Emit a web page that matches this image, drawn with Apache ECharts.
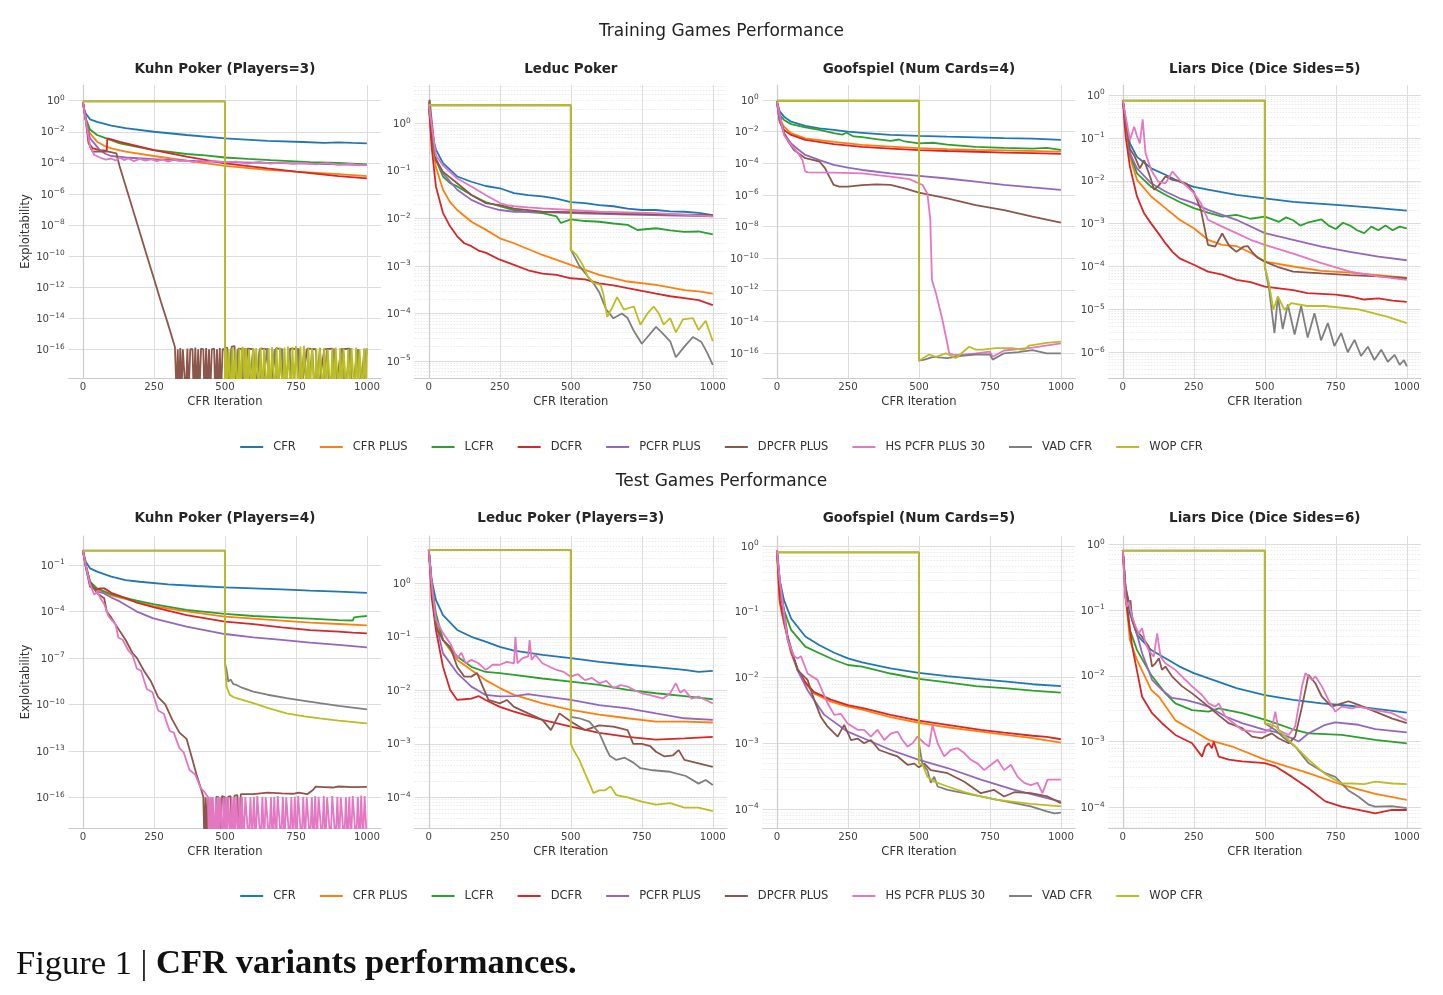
<!DOCTYPE html>
<html>
<head>
<meta charset="utf-8">
<script src="https://cdn.jsdelivr.net/npm/echarts@6/dist/echarts.min.js"></script>
<style>html,body{margin:0;padding:0;background:#fff}#c{width:1443px;height:995px}</style>
</head>
<body>
<div id="c"></div>
<script>
// ---------- categories / labels ----------
const SERIES_NAMES = ['CFR','CFR PLUS','LCFR','DCFR','PCFR PLUS','DPCFR PLUS','HS PCFR PLUS 30','VAD CFR','WOP CFR'];
const COLORS = ['#1f77b4','#ff7f0e','#2ca02c','#d62728','#9467bd','#8c564b','#e377c2','#7f7f7f','#bcbd22'];
const ROW_TITLES = ['Training Games Performance','Test Games Performance'];
const PLOT_TITLES = ['Kuhn Poker (Players=3)','Leduc Poker','Goofspiel (Num Cards=4)','Liars Dice (Dice Sides=5)',
                     'Kuhn Poker (Players=4)','Leduc Poker (Players=3)','Goofspiel (Num Cards=5)','Liars Dice (Dice Sides=6)'];
const X_TICKS = [0,250,500,750,1000];
const Y_TICKS = [
  [1,1e-2,1e-4,1e-6,1e-8,1e-10,1e-12,1e-14,1e-16],
  [1,1e-1,1e-2,1e-3,1e-4,1e-5],
  [1,1e-2,1e-4,1e-6,1e-8,1e-10,1e-12,1e-14,1e-16],
  [1,1e-1,1e-2,1e-3,1e-4,1e-5,1e-6],
  [1e-1,1e-4,1e-7,1e-10,1e-13,1e-16],
  [1,1e-1,1e-2,1e-3,1e-4],
  [1,1e-1,1e-2,1e-3,1e-4],
  [1,1e-1,1e-2,1e-3,1e-4]
];

// ---------- data: each subplot = 9 series in SERIES_NAMES order, points [iteration, exploitability] ----------
const trainKuhn3 = [
  [[0,0.85],[5,0.25],[10,0.15],[25,0.063],[50,0.043],[100,0.025],[150,0.017],[250,0.01],[365,6.2e-3],[500,3.8e-3],[650,2.6e-3],[775,2.2e-3],[850,1.9e-3],[900,2.1e-3],[950,1.9e-3],[1000,1.8e-3]],
  [[0,0.85],[10,0.057],[25,8e-3],[50,2.3e-3],[75,1.26e-3],[100,8.5e-4],[150,5.2e-4],[250,2.75e-4],[365,1.38e-4],[500,6.3e-5],[650,3.5e-5],[750,2.7e-5],[900,1.9e-5],[1000,1.4e-5]],
  [[0,0.85],[10,0.073],[25,0.014],[50,6.2e-3],[82,3.8e-3],[130,1.8e-3],[200,1e-3],[250,6.6e-4],[300,5.2e-4],[365,3.7e-4],[430,3.0e-4],[500,2.2e-4],[580,1.8e-4],[660,1.5e-4],[730,1.3e-4],[800,1.1e-4],[900,9.8e-5],[1000,8e-5]],
  [[0,0.85],[10,0.057],[20,1.8e-3],[35,8.5e-4],[60,6.6e-4],[84,6e-4],[86,3.8e-3],[100,3.2e-3],[130,2.2e-3],[200,1.1e-3],[250,6.6e-4],[365,2.5e-4],[500,9.3e-5],[650,4.4e-5],[750,2.7e-5],[900,1.4e-5],[1000,1e-5]],
  [[0,0.85],[10,0.06],[25,3.8e-3],[40,1.8e-3],[60,6.6e-4],[80,3.7e-4],[100,2.75e-4],[150,2.2e-4],[250,1.7e-4],[365,1.38e-4],[500,1.1e-4],[750,9.3e-5],[1000,7.2e-5]],
  [[0,0.85],[10,0.06],[25,1.1e-3],[35,5.2e-4],[60,5.4e-4],[90,5.2e-4],[118,4.1e-4],[129,6.3e-5],[150,3.5e-6],[175,1.1e-7],[200,3.5e-9],[225,1.1e-10],[250,3.6e-12],[275,1.1e-13],[300,4e-15],[324,1.4e-16],
   [330,1e-19],[334,1e-16],[338,1e-19],[343,1.2e-16],[347,1e-19],[352,1e-16],[358,1e-16],[362,1e-19],[368,1.1e-16],[372,1e-19],[378,1e-16],[386,1e-16],[390,1e-19],[396,1.3e-16],[400,1e-19],[406,1e-16],[410,1e-19],[416,1.1e-16],[424,1e-16],[428,1e-19],[434,1.2e-16],[438,1e-19],[444,1e-16],[448,1e-19],[454,1e-16],[462,1.1e-16],[466,1e-19],[472,1e-16],[476,1e-19],[482,1.2e-16],[486,1e-19],[492,1e-16],[500,1e-16],[508,1.3e-16],[516,1e-19],[524,1.5e-16],[534,1.6e-16],[540,1e-19],[548,1.1e-16],[560,1e-16],[566,1e-19],[580,1.1e-16],[600,1e-16],[606,1e-19],[624,1.1e-16],[650,1e-16],[656,1e-19],[680,1.2e-16],[700,1e-16],[706,1e-19],[730,1.1e-16],[760,1e-16],[766,1e-19],[790,1.1e-16],[820,1e-16],[826,1e-19],[850,1e-16],[880,1.1e-16],[886,1e-19],[910,1e-16],[940,1.1e-16],[946,1e-19],[970,1e-16],[986,1e-19],[1000,1e-16]],
  [[0,0.85],[10,0.06],[25,1.1e-3],[40,3.2e-4],[47,2.5e-4],[60,2.2e-4],[80,1.6e-4],[100,1.9e-4],[115,1.4e-4],[130,2.2e-4],[145,1.5e-4],[160,1.9e-4],[180,1.3e-4],[200,1.8e-4],[220,1.4e-4],[240,1.7e-4],[260,1.3e-4],[280,1.6e-4],[300,1.2e-4],[320,1.6e-4],[340,1.3e-4],[365,1.4e-4],[390,1.1e-4],[410,1.5e-4],[430,1.1e-4],[460,1.35e-4],[500,1.1e-4],[540,1.2e-4],[580,9e-5],[620,1.15e-4],[660,9e-5],[700,1.05e-4],[740,8.5e-5],[780,1e-4],[820,8e-5],[860,9.5e-5],[900,7.5e-5],[940,8.5e-5],[970,7e-5],[1000,7.2e-5]],
  [[0,0.9],[500,0.9],[500,1e-19],[506,1e-16],[512,1e-19],[522,1.1e-16],[530,1e-19],[545,1e-16],[552,1e-19],[570,1.2e-16],[580,1e-19],[600,1.1e-16],[608,1e-19],[622,1e-16],[630,1e-19],[648,1.2e-16],[656,1e-19],[675,1e-16],[684,1e-19],[702,1.1e-16],[710,1e-19],[728,1e-16],[736,1e-19],[755,1.2e-16],[762,1e-19],[780,1.1e-16],[790,1e-19],[808,1e-16],[816,1e-19],[835,1.2e-16],[842,1e-19],[860,1e-16],[868,1e-19],[888,1.1e-16],[896,1e-19],[915,1e-16],[922,1e-19],[940,1.2e-16],[948,1e-19],[966,1e-16],[974,1e-19],[992,1.1e-16],[1000,1e-19]],
  [[0,0.9],[500,0.9],[500,1e-19],[504,1.2e-16],[508,1e-19],[513,1e-16],[518,1.1e-16],[522,1e-19],[527,1.3e-16],[532,1e-19],[537,1e-16],[542,1.2e-16],[546,1e-19],[551,1.1e-16],[556,1e-19],[561,1.4e-16],[566,1e-16],[570,1e-19],[575,1.2e-16],[580,1e-19],[585,1e-16],[590,1.3e-16],[594,1e-19],[599,1.1e-16],[604,1e-19],[610,1.2e-16],[616,1e-16],[620,1e-19],[626,1.3e-16],[632,1e-19],[638,1.1e-16],[644,1e-16],[648,1e-19],[654,1.2e-16],[660,1e-19],[666,1.4e-16],[672,1.1e-16],[676,1e-19],[682,1.2e-16],[688,1e-19],[694,1.3e-16],[700,1e-16],[704,1e-19],[710,1.3e-16],[716,1e-19],[722,1.5e-16],[728,1.2e-16],[732,1e-19],[738,1.4e-16],[744,1e-19],[750,1.6e-16],[756,1.8e-16],[760,1e-19],[766,1.5e-16],[772,1e-19],[778,1.7e-16],[784,1.4e-16],[788,1e-19],[794,1.3e-16],[800,1e-19],[806,1.2e-16],[812,1.3e-16],[816,1e-19],[822,1.1e-16],[828,1e-19],[834,1.3e-16],[840,1.1e-16],[844,1e-19],[850,1.2e-16],[856,1e-19],[862,1e-16],[868,1.2e-16],[872,1e-19],[878,1.1e-16],[884,1e-19],[890,1.3e-16],[896,1e-16],[900,1e-19],[906,1.2e-16],[912,1e-19],[918,1.1e-16],[924,1.2e-16],[928,1e-19],[934,1e-16],[940,1e-19],[946,1.2e-16],[952,1.1e-16],[956,1e-19],[962,1.3e-16],[968,1e-19],[974,1e-16],[980,1.2e-16],[984,1e-19],[990,1.1e-16],[996,1e-19],[1000,1.2e-16]]
];

const trainLeduc = [
  [[0,2.6],[10,0.62],[25,0.28],[50,0.145],[100,0.076],[150,0.059],[200,0.048],[250,0.043],[300,0.034],[350,0.031],[400,0.029],[450,0.026],[500,0.022],[550,0.021],[600,0.019],[650,0.018],[700,0.016],[750,0.015],[800,0.015],[850,0.014],[900,0.0138],[950,0.013],[1000,0.0117]],
  [[0,2.6],[10,0.45],[25,0.12],[50,0.04],[75,0.022],[100,0.015],[150,8.5e-3],[200,5.8e-3],[250,3.8e-3],[300,3e-3],[400,1.7e-3],[500,1.05e-3],[600,6.5e-4],[700,4.7e-4],[800,4e-4],[900,3.1e-4],[950,2.9e-4],[1000,2.6e-4]],
  [[0,2.6],[10,0.5],[25,0.17],[50,0.076],[75,0.055],[100,0.047],[150,0.031],[200,0.022],[250,0.018],[300,0.015],[350,0.0135],[400,0.0129],[450,0.011],[465,8e-3],[500,9.5e-3],[550,8.8e-3],[600,8.5e-3],[650,7.8e-3],[700,7.3e-3],[735,5.7e-3],[800,6.2e-3],[850,5.6e-3],[900,5.2e-3],[950,5.3e-3],[1000,4.6e-3]],
  [[0,2.6],[10,0.32],[25,0.047],[50,0.0129],[75,6.8e-3],[100,4.2e-3],[125,3e-3],[150,2.6e-3],[175,2.1e-3],[200,1.9e-3],[250,1.35e-3],[300,1.05e-3],[350,8.1e-4],[400,6.9e-4],[450,6.5e-4],[500,5.5e-4],[550,5.2e-4],[600,4.3e-4],[650,3.9e-4],[700,3.4e-4],[750,3e-4],[800,2.6e-4],[850,2.3e-4],[900,2.1e-4],[950,1.9e-4],[1000,1.5e-4]],
  [[0,2.6],[25,0.18],[50,0.089],[100,0.04],[150,0.0245],[200,0.018],[250,0.015],[300,0.0138],[400,0.0135],[500,0.0129],[700,0.012],[1000,0.011]],
  [[0,2.6],[3,3.1],[8,1.5],[25,0.17],[50,0.095],[100,0.055],[150,0.031],[200,0.021],[250,0.019],[300,0.016],[400,0.0138],[500,0.0135],[700,0.0125],[1000,0.0117]],
  [[0,2.6],[25,0.21],[50,0.13],[100,0.069],[150,0.047],[200,0.031],[250,0.021],[275,0.019],[300,0.018],[350,0.017],[400,0.0162],[500,0.015],[600,0.0138],[800,0.0129],[1000,0.011]],
  [[0,2.4],[500,2.4],[500,2.2e-3],[530,1e-3],[560,6e-4],[580,4.3e-4],[600,2.8e-4],[625,1.2e-4],[650,7.9e-5],[680,1e-4],[700,8e-5],[720,4.5e-5],[750,2.3e-5],[770,3.2e-5],[800,5.2e-5],[820,4e-5],[850,2.6e-5],[870,1.2e-5],[900,2e-5],[930,3.2e-5],[960,2.5e-5],[980,1.5e-5],[1000,8.3e-6]],
  [[0,2.4],[500,2.4],[500,2.2e-3],[520,1.7e-3],[540,1.1e-3],[560,5.9e-4],[580,4.4e-4],[605,4e-4],[615,2.5e-4],[628,8.5e-5],[645,1.3e-4],[663,2.2e-4],[687,1.2e-4],[722,1.4e-4],[745,5.8e-5],[770,1e-4],[792,1.4e-4],[810,1e-4],[827,5.8e-5],[850,8e-5],[870,4e-5],[895,7.5e-5],[930,8e-5],[950,4.5e-5],[975,7e-5],[1000,2.6e-5]]
];

const trainGoof4 = [
  [[0,0.8],[10,0.19],[25,0.089],[50,0.043],[100,0.023],[150,0.016],[200,0.0129],[250,0.01],[300,8.5e-3],[400,6.2e-3],[500,5.4e-3],[600,4.8e-3],[700,4.4e-3],[800,3.9e-3],[900,3.6e-3],[1000,3e-3]],
  [[0,0.8],[10,0.055],[25,0.021],[50,8e-3],[100,3.8e-3],[200,2.3e-3],[300,1.45e-3],[400,1.15e-3],[500,9e-4],[600,7.9e-4],[700,7e-4],[800,6.5e-4],[1000,5.5e-4]],
  [[0,0.8],[10,0.11],[25,0.055],[50,0.03],[100,0.019],[150,0.013],[200,8e-3],[230,6.5e-3],[245,8.5e-3],[270,5e-3],[300,4.5e-3],[350,3.4e-3],[400,2.6e-3],[430,3.2e-3],[450,2.4e-3],[500,1.8e-3],[550,2e-3],[600,1.5e-3],[700,1.1e-3],[800,9.5e-4],[900,8.5e-4],[950,9.5e-4],[1000,7e-4]],
  [[0,0.8],[10,0.04],[25,0.0129],[50,6.2e-3],[100,3e-3],[200,1.65e-3],[300,1.1e-3],[400,8.5e-4],[500,6.9e-4],[600,6e-4],[700,5.4e-4],[800,4.7e-4],[900,4.4e-4],[1000,3.9e-4]],
  [[0,0.8],[10,0.05],[25,8e-3],[50,1.8e-3],[75,7.5e-4],[100,3.4e-4],[150,1.6e-4],[200,7.9e-5],[250,5.4e-5],[300,3.8e-5],[400,2.3e-5],[500,1.6e-5],[600,1.1e-5],[700,6.9e-6],[800,4.3e-6],[900,3e-6],[1000,2.1e-6]],
  [[0,0.8],[25,8e-3],[40,2.4e-3],[60,6.9e-4],[100,2.1e-4],[130,1.6e-4],[150,1.3e-4],[170,4.8e-5],[185,1.4e-5],[200,4.3e-6],[220,3.4e-6],[250,3.4e-6],[300,4.2e-6],[350,4.7e-6],[400,4.3e-6],[450,2.6e-6],[500,1.4e-6],[600,6.2e-7],[700,2.3e-7],[800,1.1e-7],[900,4.3e-8],[1000,1.8e-8]],
  [[0,0.8],[25,6e-3],[50,1.45e-3],[75,4.3e-4],[90,1.6e-4],[100,3e-5],[110,2.7e-5],[200,2.6e-5],[300,2.3e-5],[400,1.45e-5],[466,1e-5],[513,4.3e-6],[530,1.2e-6],[540,3e-8],[546,4.3e-12],[560,6.3e-13],[583,1.26e-14],[607,1e-16],[620,8e-17],[650,8e-17],[700,1e-16],[750,1.26e-16],[760,6e-17],[800,1.5e-16],[900,2.3e-16],[1000,4.3e-16]],
  [[0,0.9],[500,0.9],[500,3.4e-17],[520,4e-17],[550,6e-17],[600,5e-17],[650,7e-17],[700,8.4e-17],[750,8.4e-17],[760,4e-17],[800,1e-16],[850,1.2e-16],[900,1.6e-16],[950,1e-16],[1000,1e-16]],
  [[0,0.9],[500,0.9],[500,3.4e-17],[536,8.4e-17],[560,6e-17],[595,1e-16],[630,5e-17],[650,1e-16],[677,2.6e-16],[700,1.7e-16],[724,1.7e-16],[771,2.1e-16],[830,2.1e-16],[870,1.6e-16],[888,3.1e-16],[950,4.5e-16],[1000,5.5e-16]]
];

const trainLiars5 = [
  [[0,0.76],[10,0.22],[25,0.074],[50,0.036],[100,0.0195],[150,0.0138],[200,9.5e-3],[250,7.2e-3],[300,6.2e-3],[400,4.7e-3],[500,3.9e-3],[600,3.2e-3],[700,2.9e-3],[800,2.6e-3],[900,2.3e-3],[1000,2e-3]],
  [[0,0.76],[10,0.22],[25,0.036],[50,0.0105],[100,4.3e-3],[150,2.3e-3],[200,1.23e-3],[250,7.8e-4],[300,4.2e-4],[350,3.2e-4],[400,3e-4],[450,2.1e-4],[500,1.3e-4],[600,1e-4],[700,7.9e-5],[800,7.2e-5],[900,6.3e-5],[1000,5.4e-5]],
  [[0,0.76],[25,0.044],[50,0.0148],[100,7.2e-3],[150,4.7e-3],[200,3.2e-3],[250,2.3e-3],[300,1.8e-3],[350,1.45e-3],[400,1.6e-3],[450,1.3e-3],[500,1.45e-3],[550,1.1e-3],[575,1.4e-3],[600,1.2e-3],[625,9e-4],[650,1.05e-3],[700,1.25e-3],[725,9e-4],[750,7.5e-4],[775,1.05e-3],[800,9e-4],[825,7e-4],[850,6e-4],[875,8.5e-4],[900,7e-4],[925,9e-4],[950,7e-4],[975,8.5e-4],[1000,7.8e-4]],
  [[0,0.76],[10,0.107],[25,0.0214],[50,4.3e-3],[75,1.74e-3],[100,1e-3],[125,6e-4],[150,3.5e-4],[175,2.2e-4],[200,1.55e-4],[250,1.1e-4],[300,7.6e-5],[350,6.5e-5],[400,4.9e-5],[450,4.3e-5],[500,3.4e-5],[550,3.1e-5],[600,2.8e-5],[650,2.4e-5],[700,2.3e-5],[750,2.2e-5],[800,2e-5],[850,1.7e-5],[900,1.8e-5],[950,1.6e-5],[1000,1.5e-5]],
  [[0,0.76],[25,0.044],[50,0.0195],[100,8.7e-3],[150,5.6e-3],[200,3.9e-3],[250,3e-3],[300,2.1e-3],[400,1.23e-3],[500,6e-4],[600,4.2e-4],[700,2.9e-4],[800,2.2e-4],[900,1.7e-4],[1000,1.4e-4]],
  [[0,0.76],[25,0.055],[40,0.039],[60,0.0195],[75,0.03],[90,0.016],[100,0.0105],[110,6.2e-3],[125,7.5e-3],[150,0.0126],[175,0.0105],[200,9.8e-3],[225,8.5e-3],[250,5.5e-3],[275,2.1e-3],[300,3.2e-4],[325,2.9e-4],[350,5.9e-4],[375,3e-4],[400,2.2e-4],[425,2.9e-4],[440,3e-4],[455,2.2e-4],[475,1.6e-4],[500,1.3e-4],[550,9.5e-5],[600,7.6e-5],[700,6.9e-5],[800,6.3e-5],[900,5.9e-5],[1000,5.4e-5]],
  [[0,0.76],[25,0.089],[40,0.182],[50,0.11],[60,0.074],[70,0.27],[80,0.044],[100,0.0178],[125,9.5e-3],[150,8.7e-3],[175,0.0164],[200,0.0105],[250,5.2e-3],[275,3e-3],[300,1.23e-3],[350,8.5e-4],[400,6e-4],[450,4.2e-4],[500,3.2e-4],[600,2e-4],[700,1.2e-4],[800,7.6e-5],[900,5.9e-5],[1000,4.9e-5]],
  [[0,0.74],[500,0.74],[500,1e-4],[515,3e-5],[534,2.8e-6],[546,2e-5],[563,3.5e-6],[581,1.3e-5],[605,2.6e-6],[628,1.2e-5],[651,2.2e-6],[675,8.1e-6],[698,1.9e-6],[722,4.8e-6],[745,1.4e-6],[769,2.8e-6],[792,1e-6],[816,1.95e-6],[839,8.2e-7],[863,1.35e-6],[886,6.6e-7],[910,1.15e-6],[933,6e-7],[957,8.7e-7],[975,5.1e-7],[990,6.6e-7],[1000,4.7e-7]],
  [[0,0.74],[500,0.74],[500,1e-4],[515,4e-5],[530,9.8e-6],[546,2e-5],[569,9.8e-6],[593,1.4e-5],[650,1.2e-5],[710,1.2e-5],[830,1e-5],[930,6.8e-6],[1000,4.8e-6]]
];

const testKuhn4 = [
  [[0,0.84],[10,0.164],[25,0.061],[50,0.037],[100,0.0178],[150,0.0107],[200,8.3e-3],[300,5.6e-3],[400,4.4e-3],[500,3.6e-3],[600,3.1e-3],[700,2.7e-3],[800,2.2e-3],[900,1.9e-3],[1000,1.6e-3]],
  [[0,0.84],[10,0.1],[25,7.2e-3],[50,2.7e-3],[100,1.1e-3],[131,7.8e-4],[248,2.2e-4],[365,1e-4],[500,4.6e-5],[600,3.5e-5],[700,2.6e-5],[800,1.9e-5],[900,1.55e-5],[1000,1.26e-5]],
  [[0,0.84],[10,0.1],[25,8.3e-3],[50,3.1e-3],[100,1.3e-3],[131,9.1e-4],[190,5e-4],[248,3e-4],[365,1.26e-4],[500,6.9e-5],[600,5.1e-5],[700,4.2e-5],[800,3.5e-5],[900,2.8e-5],[950,2.6e-5],[955,4.2e-5],[975,4.6e-5],[1000,5.1e-5]],
  [[0,0.84],[10,0.08],[25,4e-3],[50,2.5e-3],[60,3.1e-3],[75,3.1e-3],[100,1.6e-3],[131,1e-3],[190,3.7e-4],[248,1.9e-4],[365,5.9e-5],[500,2.2e-5],[600,1.5e-5],[700,9.5e-6],[800,6.3e-6],[850,5.6e-6],[900,5e-6],[950,4.3e-6],[1000,3.9e-6]],
  [[0,0.84],[10,0.08],[25,5.1e-3],[50,1.9e-3],[73,1.5e-3],[100,8e-4],[131,4.3e-4],[190,9.8e-5],[248,3.6e-5],[365,1.05e-5],[500,3.5e-6],[600,2.1e-6],[700,1.45e-6],[800,9.8e-7],[900,6.9e-7],[1000,4.8e-7]],
  [[0,0.84],[10,0.1],[25,8.3e-3],[50,1.5e-3],[75,7.1e-4],[84,1e-4],[100,4e-5],[131,5e-6],[150,1.5e-6],[175,2e-7],[190,1e-7],[215,1.5e-8],[240,3e-9],[265,3e-10],[290,1e-10],[315,1e-11],[340,1.5e-12],[365,6e-13],[385,3e-14],[400,3e-15],[415,4e-16],
   [424,1.1e-16],[428,1e-19],[432,1e-16],[436,1e-19],[440,1.1e-16],[446,1e-16],[450,1e-19],[456,1e-16],[462,1e-19],[470,1.1e-16],[478,1e-16],[482,1e-19],[490,1.2e-16],[500,1e-16],[504,1e-19],[512,1.1e-16],[520,1.2e-16],[526,1e-19],[534,1.3e-16],[544,1.4e-16],[550,1e-19],[556,1.6e-16],[560,1.8e-16],[600,1.6e-16],[650,2e-16],[700,1.8e-16],[740,1.7e-16],[760,2e-16],[790,1.6e-16],[810,3e-16],[820,4.9e-16],[850,4.6e-16],[880,4.3e-16],[900,5e-16],[950,4.6e-16],[1000,4.8e-16]],
  [[0,0.84],[10,0.1],[25,6e-3],[40,1.2e-3],[50,2e-3],[60,8e-4],[75,3e-4],[90,5e-5],[100,3e-5],[115,1.5e-5],[125,2e-6],[140,1.5e-6],[160,3e-7],[175,1.5e-7],[190,2e-8],[205,1.5e-8],[225,1e-9],[245,6e-10],[265,4e-11],[285,2.5e-11],[305,2e-12],[320,1.5e-12],[340,1.5e-13],[355,8e-14],[375,6e-15],[395,3e-15],[415,4e-16],[430,2e-16],
   [440,1e-16],[444,1e-19],[448,1.1e-16],[452,1e-19],[456,1e-16],[460,1.2e-16],[464,1e-19],[468,1e-16],[472,1e-19],[476,1.1e-16],[480,1e-19],[484,1e-16],[488,1.2e-16],[492,1e-19],[496,1e-16],[500,1e-19],[504,1.1e-16],[508,1e-19],[512,1e-16],[516,1.2e-16],[520,1e-19],[524,1e-16],[528,1e-19],[532,1.1e-16],[536,1e-19],[540,1e-16],[544,1.2e-16],[548,1e-19],[552,1e-16],[556,1e-19],[560,1.1e-16],[566,1e-19],[572,1e-16],[578,1.2e-16],[584,1e-19],[590,1e-16],[596,1e-19],[602,1.1e-16],[608,1e-19],[614,1.2e-16],[620,1e-16],[626,1e-19],[632,1.1e-16],[638,1e-19],[644,1e-16],[650,1.2e-16],[656,1e-19],[662,1e-16],[668,1e-19],[674,1.1e-16],[680,1e-19],[686,1.2e-16],[692,1e-16],[698,1e-19],[704,1.1e-16],[710,1e-19],[716,1e-16],[722,1.2e-16],[728,1e-19],[734,1e-16],[740,1e-19],[746,1.1e-16],[752,1e-19],[758,1.2e-16],[764,1e-16],[770,1e-19],[776,1.1e-16],[782,1e-19],[788,1e-16],[794,1.3e-16],[800,1e-19],[806,1e-16],[812,1e-19],[818,1.2e-16],[824,1e-19],[830,1.1e-16],[836,1e-16],[842,1e-19],[848,1.2e-16],[854,1e-19],[860,1e-16],[866,1.1e-16],[872,1e-19],[878,1.2e-16],[884,1e-16],[890,1e-19],[896,1.1e-16],[902,1e-19],[908,1e-16],[914,1.2e-16],[920,1e-19],[926,1e-16],[932,1e-19],[938,1.1e-16],[944,1e-19],[950,1.2e-16],[956,1e-16],[962,1e-19],[968,1.1e-16],[974,1e-19],[980,1.3e-16],[986,1e-19],[992,1.2e-16],[1000,1e-19]],
  [[0,0.84],[500,0.84],[500,4.5e-8],[506,1.7e-8],[512,3e-9],[520,4e-9],[530,2e-9],[541,1.8e-9],[560,1.2e-9],[600,6.6e-10],[650,4.2e-10],[717,2.5e-10],[780,1.7e-10],[834,1.2e-10],[900,8e-11],[1000,4.8e-11]],
  [[0,0.84],[500,0.84],[500,4.5e-8],[506,1.4e-9],[517,4.1e-10],[530,3e-10],[541,2.5e-10],[600,1.2e-10],[650,6e-11],[717,2.6e-11],[780,1.7e-11],[834,1.26e-11],[900,9e-12],[1000,6e-12]]
];

const testLeduc3 = [
  [[0,4.2],[10,1.15],[25,0.49],[50,0.255],[100,0.134],[150,0.1],[200,0.081],[250,0.065],[300,0.055],[400,0.046],[500,0.04],[600,0.034],[700,0.03],[800,0.027],[900,0.024],[950,0.022],[1000,0.023]],
  [[0,4.2],[10,1.0],[25,0.21],[50,0.087],[100,0.037],[150,0.024],[200,0.0155],[250,0.011],[300,8.2e-3],[400,5.7e-3],[500,4.3e-3],[600,3.5e-3],[700,3e-3],[800,2.6e-3],[900,2.6e-3],[1000,2.5e-3]],
  [[0,4.2],[10,1.0],[25,0.275],[50,0.087],[100,0.043],[150,0.0275],[200,0.022],[250,0.021],[300,0.0195],[400,0.0166],[500,0.0145],[600,0.0126],[700,0.0102],[800,8.8e-3],[900,7.8e-3],[1000,6.8e-3]],
  [[0,4.2],[10,0.56],[25,0.134],[50,0.0275],[75,0.0102],[100,6.6e-3],[125,6.8e-3],[150,7e-3],[175,7.8e-3],[200,6.6e-3],[250,4.9e-3],[300,4e-3],[400,2.8e-3],[500,2.1e-3],[600,1.6e-3],[700,1.35e-3],[800,1.2e-3],[900,1.26e-3],[1000,1.35e-3]],
  [[0,4.2],[10,1.0],[25,0.18],[50,0.049],[100,0.021],[150,0.0117],[200,8.2e-3],[250,7.7e-3],[300,7.8e-3],[350,8.5e-3],[400,7.8e-3],[500,6.6e-3],[600,5.3e-3],[700,4.6e-3],[800,3.7e-3],[900,3e-3],[1000,2.8e-3]],
  [[0,4.2],[10,1.0],[25,0.155],[50,0.087],[75,0.065],[100,0.0275],[125,0.018],[150,0.018],[170,0.021],[190,0.0117],[210,6.6e-3],[250,5.7e-3],[275,6.6e-3],[300,4.9e-3],[350,3.7e-3],[400,2.8e-3],[430,1.8e-3],[460,3.7e-3],[500,2.6e-3],[550,1.8e-3],[600,2.2e-3],[650,2.1e-3],[700,1.8e-3],[720,1e-3],[750,1e-3],[780,9e-4],[800,7.1e-4],[830,5.8e-4],[860,6.1e-4],[880,7.6e-4],[900,5e-4],[950,4.3e-4],[1000,3.7e-4]],
  [[0,4.2],[10,1.0],[25,0.21],[50,0.117],[75,0.076],[100,0.04],[115,0.05],[130,0.032],[150,0.037],[175,0.032],[200,0.024],[225,0.03],[250,0.03],[275,0.034],[300,0.032],[305,0.1],[312,0.032],[330,0.04],[350,0.043],[355,0.087],[362,0.037],[375,0.046],[400,0.032],[425,0.0275],[450,0.024],[475,0.022],[500,0.018],[525,0.02],[550,0.0155],[575,0.017],[600,0.0135],[625,0.015],[650,0.011],[675,0.0125],[700,0.0117],[725,0.01],[750,8.8e-3],[775,8.2e-3],[800,7.6e-3],[825,7e-3],[850,8.8e-3],[870,0.0135],[885,9e-3],[900,0.0102],[925,7e-3],[950,7.6e-3],[975,6.6e-3],[1000,5.7e-3]],
  [[0,4.2],[500,4.2],[500,3.2e-3],[530,3e-3],[565,2.6e-3],[600,1.6e-3],[625,8e-4],[637,6e-4],[660,5e-4],[690,5.5e-4],[722,4.4e-4],[745,3.5e-4],[790,3.2e-4],[850,3e-4],[905,2.5e-4],[950,1.8e-4],[975,2.1e-4],[1000,1.7e-4]],
  [[0,4.2],[500,4.2],[500,1e-3],[510,7.6e-4],[530,5e-4],[550,2.8e-4],[570,1.6e-4],[580,1.2e-4],[600,1.35e-4],[620,1.35e-4],[640,1.6e-4],[660,1.1e-4],[700,1e-4],[750,8.3e-5],[800,7.3e-5],[850,7.8e-5],[900,6.4e-5],[950,6.4e-5],[1000,5.5e-5]]
];

const testGoof5 = [
  [[0,0.87],[10,0.3],[25,0.15],[50,0.079],[100,0.042],[150,0.031],[200,0.024],[250,0.0195],[300,0.017],[400,0.0138],[500,0.0118],[600,0.0105],[700,9.5e-3],[800,8.7e-3],[900,7.9e-3],[1000,7.4e-3]],
  [[0,0.87],[10,0.134],[25,0.066],[50,0.0234],[73,0.0129],[100,8.1e-3],[131,5.7e-3],[190,4.3e-3],[250,3.6e-3],[307,3.2e-3],[400,2.5e-3],[500,2.05e-3],[600,1.75e-3],[718,1.5e-3],[800,1.35e-3],[900,1.2e-3],[1000,1.02e-3]],
  [[0,0.87],[10,0.214],[25,0.106],[50,0.053],[100,0.0295],[150,0.0234],[200,0.0186],[250,0.0155],[300,0.0146],[400,0.0115],[500,9.5e-3],[600,8.4e-3],[700,7.4e-3],[800,6.9e-3],[900,6.3e-3],[1000,5.9e-3]],
  [[0,0.87],[10,0.15],[25,0.07],[50,0.025],[73,0.0135],[100,8.5e-3],[131,6e-3],[190,4.6e-3],[250,3.8e-3],[307,3.4e-3],[400,2.7e-3],[500,2.2e-3],[600,1.9e-3],[718,1.6e-3],[800,1.45e-3],[900,1.3e-3],[950,1.25e-3],[1000,1.15e-3]],
  [[0,0.87],[10,0.3],[25,0.08],[38,0.037],[73,0.0129],[108,6.4e-3],[167,2.7e-3],[249,1.5e-3],[307,1.18e-3],[401,7.9e-4],[500,5.6e-4],[601,4.2e-4],[718,2.8e-4],[836,1.95e-4],[1000,1.29e-4]],
  [[0,0.87],[10,0.3],[38,0.042],[73,0.0129],[108,9.2e-3],[131,4.6e-3],[155,2.5e-3],[178,1.8e-3],[214,1.26e-3],[237,1.9e-3],[261,1.12e-3],[284,1.18e-3],[307,1e-3],[331,1.12e-3],[360,7.9e-4],[390,7.1e-4],[425,6.3e-4],[460,4.7e-4],[484,4.9e-4],[500,4.3e-4],[519,4.9e-4],[542,3.9e-4],[601,3.5e-4],[660,2.6e-4],[718,1.74e-4],[765,1.95e-4],[800,1.55e-4],[836,1.8e-4],[894,1.74e-4],[953,1.55e-4],[1000,1.23e-4]],
  [[0,0.87],[10,0.3],[38,0.037],[61,0.021],[73,0.0195],[85,0.021],[108,0.0115],[143,9.2e-3],[178,4.1e-3],[202,2.7e-3],[225,2.8e-3],[249,2e-3],[284,1.6e-3],[307,1.6e-3],[331,1.26e-3],[354,1.6e-3],[378,1.12e-3],[401,1.4e-3],[425,1.5e-3],[442,1.12e-3],[460,8.9e-4],[478,1e-3],[495,1.26e-3],[519,1e-3],[536,8.9e-4],[548,1.9e-3],[566,1e-3],[589,6.3e-4],[613,7.9e-4],[636,8.4e-4],[660,7.1e-4],[683,5.6e-4],[707,4.9e-4],[730,3.9e-4],[754,4.7e-4],[777,5.6e-4],[800,3.9e-4],[824,4.7e-4],[847,3.1e-4],[871,2.5e-4],[894,2.3e-4],[918,2.5e-4],[935,1.74e-4],[953,2.8e-4],[977,2.8e-4],[1000,2.8e-4]],
  [[0,0.8],[500,0.8],[500,1e-3],[512,4.9e-4],[530,3.9e-4],[542,2.5e-4],[554,3.1e-4],[566,2.2e-4],[601,1.95e-4],[660,1.74e-4],[718,1.55e-4],[777,1.38e-4],[836,1.23e-4],[894,1.1e-4],[953,9.1e-5],[977,8.6e-5],[1000,8.8e-5]],
  [[0,0.8],[500,0.8],[500,4.9e-4],[513,4.7e-4],[530,3.1e-4],[554,2.6e-4],[601,2.2e-4],[660,1.8e-4],[718,1.55e-4],[777,1.38e-4],[894,1.2e-4],[1000,1.1e-4]]
];

const testLiars6 = [
  [[0,0.82],[10,0.2],[25,0.089],[50,0.042],[100,0.0246],[150,0.0185],[200,0.0138],[250,0.011],[300,9.2e-3],[400,6.5e-3],[500,5.1e-3],[600,4.3e-3],[700,3.8e-3],[800,3.5e-3],[900,3.1e-3],[1000,2.75e-3]],
  [[0,0.82],[10,0.16],[25,0.035],[50,0.0174],[100,6.1e-3],[127,4.8e-3],[185,2.1e-3],[244,1.5e-3],[302,1.06e-3],[385,8.4e-4],[500,5.3e-4],[654,3.3e-4],[771,2.2e-4],[889,1.6e-4],[1000,1.3e-4]],
  [[0,0.82],[10,0.2],[25,0.05],[50,0.0246],[100,0.0103],[150,5.4e-3],[185,3.8e-3],[244,3e-3],[302,2.85e-3],[338,3.2e-3],[420,2.7e-3],[500,2.15e-3],[537,1.9e-3],[596,1.55e-3],[654,1.33e-3],[771,1.26e-3],[889,1.06e-3],[1000,9.4e-4]],
  [[0,0.82],[9,0.16],[33,0.028],[68,4.8e-3],[103,2.7e-3],[138,1.9e-3],[185,1.26e-3],[244,9.4e-4],[279,5.9e-4],[291,8.4e-4],[302,9.4e-4],[314,7.9e-4],[320,1e-3],[338,5.9e-4],[373,5.3e-4],[420,5e-4],[500,4.7e-4],[537,4.2e-4],[596,2.9e-4],[654,1.95e-4],[713,1.23e-4],[771,1.02e-4],[830,9.1e-5],[889,8.1e-5],[947,9.1e-5],[1000,9.1e-5]],
  [[0,0.82],[10,0.22],[33,0.079],[68,0.022],[103,8.7e-3],[138,6.1e-3],[173,4.6e-3],[220,4.3e-3],[267,3.8e-3],[302,3.4e-3],[361,2.4e-3],[420,1.9e-3],[500,1.5e-3],[537,1.4e-3],[596,1.12e-3],[619,1e-3],[654,1.33e-3],[713,1.8e-3],[748,1.95e-3],[830,1.8e-3],[889,1.55e-3],[1000,1.38e-3]],
  [[0,0.82],[9,0.227],[21,0.126],[27,0.14],[33,0.07],[45,0.05],[68,0.039],[91,0.028],[103,0.0138],[115,0.0155],[127,0.0185],[138,0.0123],[150,0.0138],[173,9.8e-3],[209,6.9e-3],[244,5.4e-3],[302,3.4e-3],[338,2.5e-3],[373,1.9e-3],[420,1.6e-3],[455,1.19e-3],[490,1.12e-3],[500,1.19e-3],[525,1.33e-3],[548,1.12e-3],[584,9.4e-4],[607,1.19e-3],[631,3.4e-3],[654,0.0103],[678,7.7e-3],[701,4.8e-3],[724,3.8e-3],[736,3.4e-3],[771,3.8e-3],[795,4.1e-3],[830,3.6e-3],[889,2.85e-3],[947,2.25e-3],[1000,1.9e-3]],
  [[0,0.82],[9,0.16],[15,0.112],[21,0.134],[33,0.079],[45,0.056],[56,0.044],[68,0.053],[80,0.031],[91,0.0246],[109,0.0195],[121,0.044],[133,0.0195],[150,0.0155],[185,0.0123],[220,8.7e-3],[244,6.9e-3],[279,5.1e-3],[302,3.8e-3],[326,3.4e-3],[338,3.8e-3],[361,2.4e-3],[420,1.5e-3],[467,1.4e-3],[500,1.38e-3],[525,1.6e-3],[537,2.85e-3],[548,1.5e-3],[584,1.26e-3],[607,1.7e-3],[631,6.9e-3],[643,0.011],[666,8.7e-3],[678,9.8e-3],[701,6.9e-3],[724,4.3e-3],[748,2.85e-3],[771,3.4e-3],[807,3.2e-3],[830,3.4e-3],[889,3e-3],[947,2.7e-3],[1000,2.1e-3]],
  [[0,0.8],[500,0.8],[500,1.9e-3],[537,1.5e-3],[569,1.12e-3],[607,8.4e-4],[654,4.7e-4],[713,3.3e-4],[748,2.9e-4],[771,2.3e-4],[795,1.8e-4],[830,1.45e-4],[865,1.1e-4],[889,1.02e-4],[947,1.04e-4],[1000,9.7e-5]],
  [[0,0.8],[500,0.8],[500,1.9e-3],[525,1.8e-3],[537,1.7e-3],[596,9.4e-4],[654,5.3e-4],[713,3.2e-4],[748,2.6e-4],[771,2.3e-4],[807,2.3e-4],[850,2.25e-4],[889,2.45e-4],[950,2.3e-4],[1000,2.25e-4]]
];

const PLOT_DATA = [trainKuhn3, trainLeduc, trainGoof4, trainLiars5, testKuhn4, testLeduc3, testGoof5, testLiars6];

// ---------- layout ----------
const FONT = 'DejaVu Sans';
const GRID_LEFT = [68.7, 414.6, 762.7, 1108.6];
const GRID_W = 312.4;
const GRID_TOP = [85, 536];
const GRID_H = [293, 292];
const Y_EXP_RANGE = [[-17.85,1.01],[-5.358,0.806],[-17.56,0.948],[-6.6,0.233],[-17.98,0.872],[-4.574,0.884],[-4.289,0.152],[-4.315,0.126]];
const MINOR_GRID = [false,true,false,true,false,true,true,true];

function expLabel(v){
  const e = Math.round(Math.log10(v));
  return '{b|10}{s|' + (e < 0 ? '\u2212' + (-e) : String(e)) + '}';
}
function minorValues(lo, hi){
  const out = [];
  for (let n = Math.floor(lo); n <= Math.ceil(hi); n++) {
    for (let k = 2; k <= 9; k++) {
      const v = k * Math.pow(10, n);
      const l = Math.log10(v);
      if (l > lo && l < hi) out.push(v);
    }
  }
  return out;
}

const grids = [], xAxes = [], yAxes = [], series = [], titles = [];
titles.push({text: ROW_TITLES[0], left: 721.5, top: 23, textAlign: 'center', padding: 0,
  textStyle: {fontFamily: FONT, fontSize: 17, fontWeight: 'normal', color: '#222'}});
titles.push({text: ROW_TITLES[1], left: 721.5, top: 473, textAlign: 'center', padding: 0,
  textStyle: {fontFamily: FONT, fontSize: 17, fontWeight: 'normal', color: '#222'}});

for (let i = 0; i < 8; i++) {
  const row = Math.floor(i / 4), col = i % 4;
  grids.push({left: GRID_LEFT[col], top: GRID_TOP[row], width: GRID_W, height: GRID_H[row], containLabel: false});
  titles.push({text: PLOT_TITLES[i], left: GRID_LEFT[col] + GRID_W / 2, top: row ? 511 : 62, textAlign: 'center', padding: 0,
    textStyle: {fontFamily: FONT, fontSize: 13.5, fontWeight: 'bold', color: '#262626'}});
  xAxes.push({
    type: 'value', gridIndex: i, min: -50, max: 1050,
    name: 'CFR Iteration', nameLocation: 'middle', nameGap: 18,
    nameTextStyle: {fontFamily: FONT, fontSize: 11.5, color: '#333'},
    axisLine: {show: true, onZero: false, lineStyle: {color: '#cccccc', width: 1.2}},
    axisTick: {show: false, customValues: X_TICKS},
    axisLabel: {customValues: X_TICKS, fontFamily: FONT, fontSize: 10.2, color: '#444', margin: 4, formatter: v => String(v)},
    splitLine: {show: true, lineStyle: {color: '#dddddd', width: 1}}
  });
  const lo = Math.pow(10, Y_EXP_RANGE[i][0]), hi = Math.pow(10, Y_EXP_RANGE[i][1]);
  const mainY = yAxes.length;
  yAxes.push({
    type: 'log', gridIndex: i, min: lo, max: hi, position: 'left',
    name: col === 0 ? 'Exploitability' : '', nameLocation: 'middle', nameGap: 32, nameRotate: 90,
    nameTextStyle: {fontFamily: FONT, fontSize: 11.5, color: '#333'},
    axisLine: {show: true, lineStyle: {color: '#cccccc', width: 1.2}},
    axisTick: {show: false, customValues: Y_TICKS[i]},
    axisLabel: {customValues: Y_TICKS[i], margin: 4, formatter: expLabel,
      rich: {
        b: {fontFamily: FONT, fontSize: 10.2, color: '#444', lineHeight: 12, verticalAlign: 'bottom'},
        s: {fontFamily: FONT, fontSize: 7.4, color: '#444', lineHeight: 12, verticalAlign: 'top'}
      }},
    splitLine: {show: true, lineStyle: {color: '#dddddd', width: 1}},
    z: 1
  });
  if (MINOR_GRID[i]) {
    const mv = minorValues(Y_EXP_RANGE[i][0], Y_EXP_RANGE[i][1]);
    yAxes.push({
      type: 'log', gridIndex: i, min: lo, max: hi, position: 'left',
      axisLine: {show: false}, axisLabel: {show: false},
      axisTick: {show: false, customValues: mv},
      splitLine: {show: true, lineStyle: {color: '#e6e6e6', width: 0.8, type: [1.5, 1.5]}},
      z: 0
    });
  }
  PLOT_DATA[i].forEach((pts, s) => {
    series.push({
      type: 'line', name: SERIES_NAMES[s], xAxisIndex: i, yAxisIndex: mainY,
      data: pts, symbol: 'none', showSymbol: false, clip: true, silent: true,
      lineStyle: {width: 1.8, color: COLORS[s]}, itemStyle: {color: COLORS[s]},
      animation: false
    });
  });
}

titles.push({
  text: '{r|Figure 1 | }{bo|CFR variants performances.}', left: 16, top: 947, padding: 0,
  textStyle: {fontWeight: 'normal', rich: {
    r: {fontFamily: 'Liberation Serif', fontSize: 34.5, fontWeight: 'normal', color: '#111'},
    bo: {fontFamily: 'Liberation Serif', fontSize: 34.5, fontWeight: 'bold', color: '#111'}
  }}
});

const legendBase = {
  data: SERIES_NAMES, left: 'center', icon: 'rect', itemWidth: 23, itemHeight: 2, itemGap: 24,
  textStyle: {fontFamily: FONT, fontSize: 11.5, color: '#333', padding: [0, 0, 0, 5]},
  selectedMode: false
};

const chart = echarts.init(document.getElementById('c'), null, {renderer: 'canvas', width: 1443, height: 995});
chart.setOption({
  backgroundColor: '#ffffff',
  animation: false,
  color: COLORS,
  title: titles,
  legend: [Object.assign({}, legendBase, {top: 436}), Object.assign({}, legendBase, {top: 885})],
  grid: grids,
  xAxis: xAxes,
  yAxis: yAxes,
  series: series
});
</script>
</body>
</html>
